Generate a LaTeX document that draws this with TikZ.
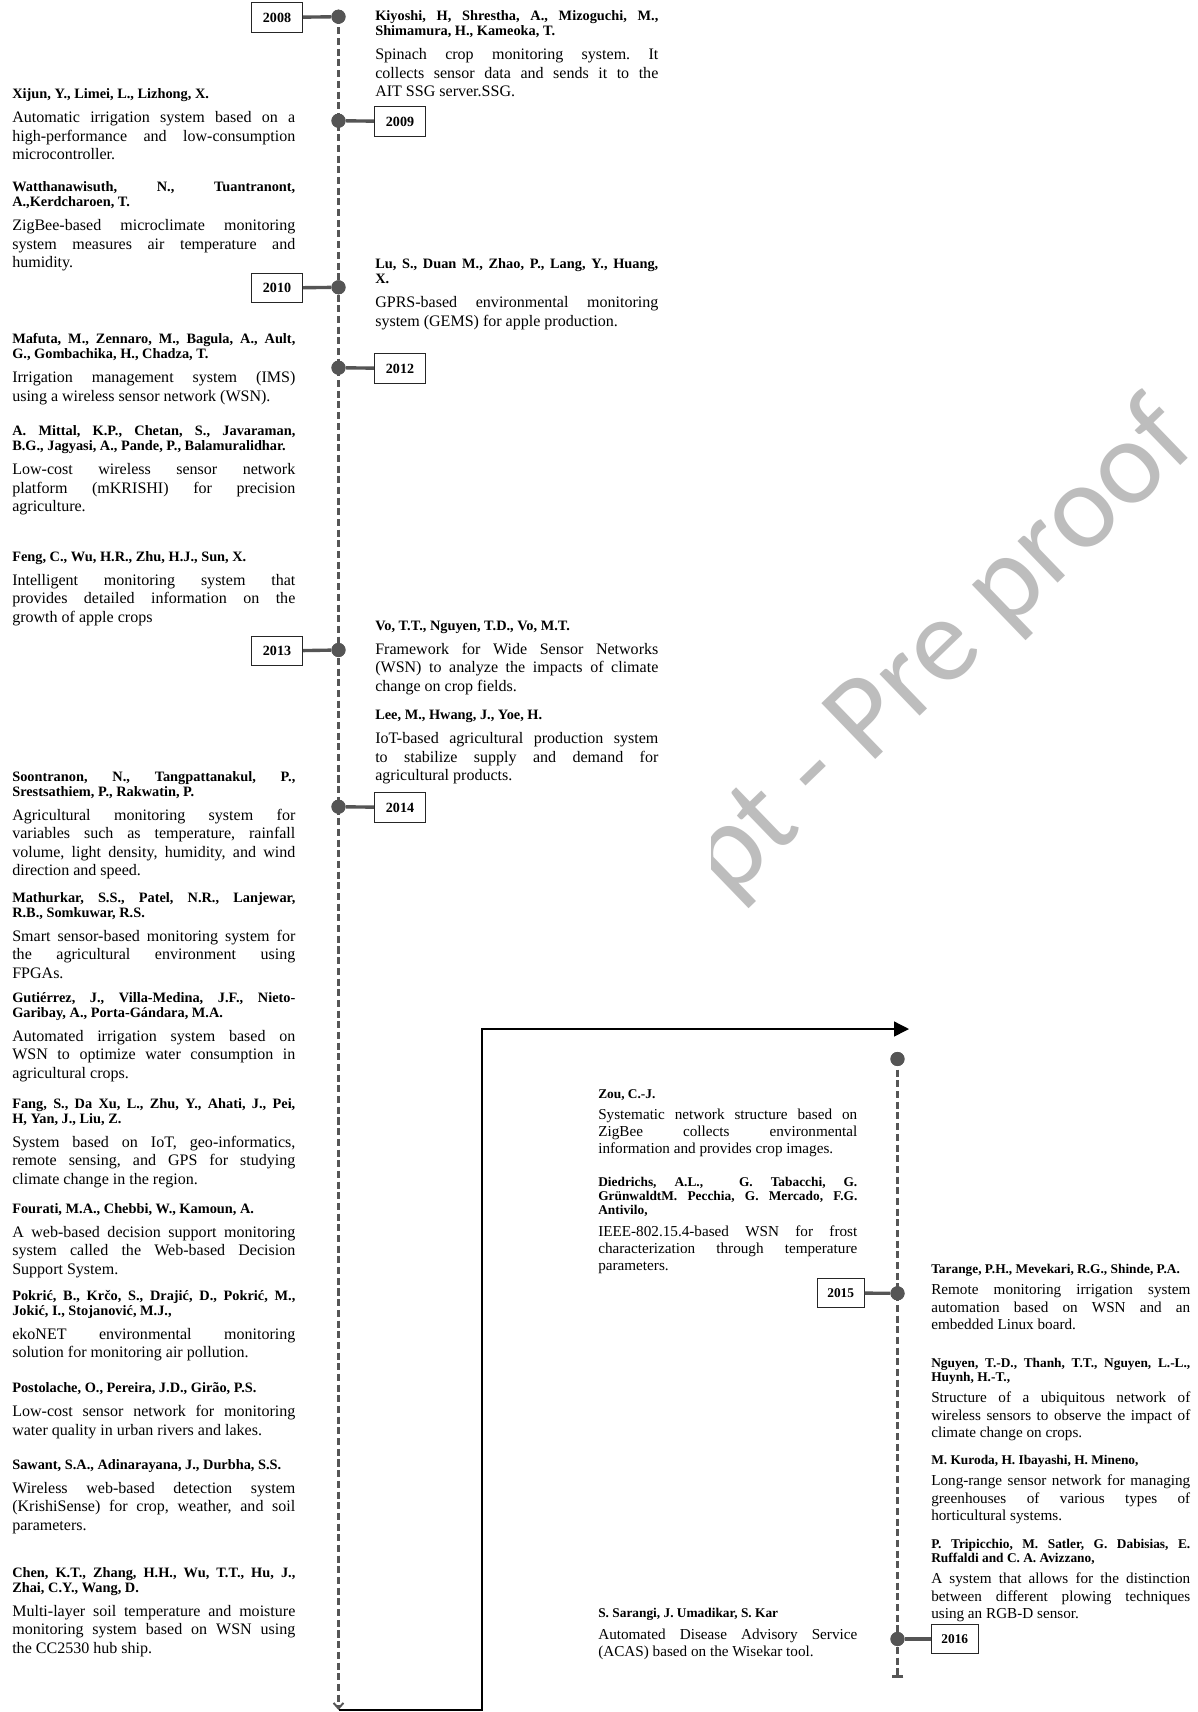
\documentclass[tikz,border=0pt]{standalone}
\usepackage{fontspec}
\setmainfont{Liberation Serif}
\newfontfamily\wmfont{Carlito}
\usetikzlibrary{arrows.meta}

\definecolor{tlgray}{HTML}{555555}
\definecolor{wmgray}{HTML}{BDBDBD}

\frenchspacing
\tolerance=10000
\hbadness=10000
\hyphenpenalty=10000
\exhyphenpenalty=10000

% one reference entry: bold authors, then the description
\newcommand{\upentry}[2]{{\fontsize{10.2}{10.6}\selectfont\bfseries #1\par}\vspace{4pt}{\fontsize{11.4}{13.1}\selectfont #2\par}}
\newcommand{\loentry}[2]{{\fontsize{9.5}{10.1}\selectfont\bfseries #1\par}\vspace{3pt}{\fontsize{10.8}{12.2}\selectfont #2\par}}

\tikzset{
  upcol/.style={anchor=north west, inner sep=0pt, text width=201.3pt, align=justify},
  locol/.style={anchor=north west, inner sep=0pt, text width=184.2pt, align=justify},
  tl/.style={draw=tlgray, line width=2.8pt, dash pattern=on 5pt off 2.6pt},
  dot/.style={circle, fill=tlgray, inner sep=0pt, minimum size=10pt},
  stub/.style={draw=tlgray, line width=2.4pt},
  yearbox/.style={draw=black!85, line width=0.7pt, fill=white, inner sep=0pt,
    minimum width=36.6pt, minimum height=21.3pt, font=\fontsize{10}{12}\selectfont\bfseries},
  lowyear/.style={yearbox, minimum width=33.4pt, minimum height=20pt,
    font=\fontsize{9.5}{11}\selectfont\bfseries},
  flow/.style={draw=black, line width=1pt},
  wm/.style={text=wmgray, inner sep=0pt, font=\wmfont\fontsize{86}{86}\selectfont},
}

\begin{document}
\begin{tikzpicture}[x=0.025cm, y=-0.025cm]
\useasboundingbox (0,0) rectangle (1198,1712);
\fill[white] (0,0) rectangle (1198,1712);

% faint watermark showing at the right
\begin{scope}
  \clip (711,0) rectangle (1198,1000);
  \node[wm, rotate=44, anchor=base west] (wmark) at (729,901) {pt - Pre proof};
\end{scope}

% ---------- upper timeline ----------
\node[dot] (d2008) at (338.5,16.7) {};
\node[dot] (d2009) at (338.5,120.7) {};
\node[dot] (d2010) at (338.5,287.3) {};
\node[dot] (d2012) at (338.5,367.7) {};
\node[dot] (d2013) at (338.5,650) {};
\node[dot] (d2014) at (338.5,806.7) {};
\coordinate (upend) at (338.5,1710);

\draw[tl, -{Straight Barb[length=4pt,width=7pt,line width=1.4pt]}] (d2008.center) -- (upend);
\foreach \d in {d2008,d2009,d2010,d2012,d2013,d2014} \node[dot] at (\d) {};

\node[yearbox] (y2008) at (277,17.5) {2008};
\node[yearbox] (y2009) at (400,121.5) {2009};
\node[yearbox] (y2010) at (277,288) {2010};
\node[yearbox] (y2012) at (400,368.5) {2012};
\node[yearbox] (y2013) at (277,651) {2013};
\node[yearbox] (y2014) at (400,807.5) {2014};

\draw[stub] (d2008) -- (y2008);
\draw[stub] (d2009) -- (y2009);
\draw[stub] (d2010) -- (y2010);
\draw[stub] (d2012) -- (y2012);
\draw[stub] (d2013) -- (y2013);
\draw[stub] (d2014) -- (y2014);

% ---------- link to the second timeline ----------
\coordinate (turnA) at (482,1710);
\coordinate (turnB) at (482,1029);
\coordinate (flowtip) at (909,1029);
\draw[flow, -{Triangle[length=10.5pt,width=10.5pt]}] (upend) -- (turnA) -- (turnB) -- (flowtip);

% ---------- lower timeline ----------
\node[dot] (dtop) at (897.5,1059) {};
\node[dot] (d2015) at (897.5,1293.3) {};
\node[dot] (d2016) at (897.5,1639) {};
\coordinate (loend) at (897.5,1678);
\draw[tl, -{Bar[width=8.5pt,line width=2.2pt]}] (dtop.center) -- (loend);
\foreach \d in {dtop,d2015,d2016} \node[dot] at (\d) {};

\node[lowyear] (y2015) at (840.7,1293) {2015};
\node[lowyear] (y2016) at (954.8,1639) {2016};
\draw[stub] (d2015) -- (y2015);
\draw[stub] (d2016) -- (y2016);

% ---------- entries, right of the upper timeline ----------
\node[upcol] (kiyoshi) at (375,10.5) {\upentry{Kiyoshi, H, Shrestha, A., Mizoguchi, M.,\linebreak Shimamura, H., Kameoka, T.}{Spinach crop monitoring system. It\linebreak collects sensor data and sends it to the\linebreak AIT SSG server.SSG.}};
\node[upcol] (lu) at (375,258.5) {\upentry{Lu, S., Duan M., Zhao, P., Lang, Y., Huang,\linebreak X.}{GPRS-based environmental monitoring\linebreak system (GEMS) for apple production.}};
\node[upcol] (vo) at (375,620.7) {\upentry{Vo, T.T., Nguyen, T.D., Vo, M.T.}{Framework for Wide Sensor Networks\linebreak (WSN) to analyze the impacts of climate\linebreak change on crop fields.}};
\node[upcol] (lee) at (375,710) {\upentry{Lee, M., Hwang, J., Yoe, H.}{IoT-based agricultural production system\linebreak to stabilize supply and demand for\linebreak agricultural products.}};

% ---------- entries, left of the upper timeline ----------
\node[upcol] (xijun) at (12,88.3) {\upentry{Xijun, Y., Limei, L., Lizhong, X.}{Automatic irrigation system based on a\linebreak high-performance and low-consumption\linebreak microcontroller.}};
\node[upcol] (watt) at (12,181.7) {\upentry{Watthanawisuth, N., Tuantranont,\linebreak A.,Kerdcharoen, T.}{ZigBee-based microclimate monitoring\linebreak system measures air temperature and\linebreak humidity.}};
\node[upcol] (mafuta) at (12,333.5) {\upentry{Mafuta, M., Zennaro, M., Bagula, A., Ault,\linebreak G., Gombachika, H., Chadza, T.}{Irrigation management system (IMS)\linebreak using a wireless sensor network (WSN).}};
\node[upcol] (mittal) at (12,425.7) {\upentry{A. Mittal, K.P., Chetan, S., Javaraman,\linebreak B.G., Jagyasi, A., Pande, P., Balamuralidhar.}{Low-cost wireless sensor network\linebreak platform (mKRISHI) for precision\linebreak agriculture.}};
\node[upcol] (feng) at (12,551) {\upentry{Feng, C., Wu, H.R., Zhu, H.J., Sun, X.}{Intelligent monitoring system that\linebreak provides detailed information on the\linebreak growth of apple crops}};
\node[upcol] (soon) at (12,771) {\upentry{Soontranon, N., Tangpattanakul, P.,\linebreak Srestsathiem, P., Rakwatin, P.}{Agricultural monitoring system for\linebreak variables such as temperature, rainfall\linebreak volume, light density, humidity, and wind\linebreak direction and speed.}};
\node[upcol] (mathur) at (12,892.3) {\upentry{Mathurkar, S.S., Patel, N.R., Lanjewar,\linebreak R.B., Somkuwar, R.S.}{Smart sensor-based monitoring system for\linebreak the agricultural environment using\linebreak FPGAs.}};
\node[upcol] (gutier) at (12,992) {\upentry{Gutiérrez, J., Villa-Medina, J.F., Nieto-\linebreak Garibay, A., Porta-Gándara, M.A.}{Automated irrigation system based on\linebreak WSN to optimize water consumption in\linebreak agricultural crops.}};
\node[upcol] (fang) at (12,1098) {\upentry{Fang, S., Da Xu, L., Zhu, Y., Ahati, J., Pei,\linebreak H, Yan, J., Liu, Z.}{System based on IoT, geo-informatics,\linebreak remote sensing, and GPS for studying\linebreak climate change in the region.}};
\node[upcol] (fourati) at (12,1203) {\upentry{Fourati, M.A., Chebbi, W., Kamoun, A.}{A web-based decision support monitoring\linebreak system called the Web-based Decision\linebreak Support System.}};
\node[upcol] (pokric) at (12,1290) {\upentry{Pokrić, B., Krčo, S., Drajić, D., Pokrić, M.,\linebreak Jokić, I., Stojanović, M.J.,}{ekoNET environmental monitoring\linebreak solution for monitoring air pollution.}};
\node[upcol] (postol) at (12,1382.3) {\upentry{Postolache, O., Pereira, J.D., Girão, P.S.}{Low-cost sensor network for monitoring\linebreak water quality in urban rivers and lakes.}};
\node[upcol] (sawant) at (12,1459) {\upentry{Sawant, S.A., Adinarayana, J., Durbha, S.S.}{Wireless web-based detection system\linebreak (KrishiSense) for crop, weather, and soil\linebreak parameters.}};
\node[upcol] (chen) at (12,1567) {\upentry{Chen, K.T., Zhang, H.H., Wu, T.T., Hu, J.,\linebreak Zhai, C.Y., Wang, D.}{Multi-layer soil temperature and moisture\linebreak monitoring system based on WSN using\linebreak the CC2530 hub ship.}};

% ---------- entries beside the lower timeline ----------
\node[locol] (zou) at (598,1089) {\loentry{Zou, C.-J.}{Systematic network structure based on\linebreak ZigBee collects environmental\linebreak information and provides crop images.}};
\node[locol] (diedr) at (598,1176.7) {\loentry{Diedrichs, A.L.,\ \ G. Tabacchi, G.\linebreak GrünwaldtM. Pecchia, G. Mercado, F.G.\linebreak Antivilo,}{IEEE-802.15.4-based WSN for frost\linebreak characterization through temperature\linebreak parameters.}};
\node[locol] (sarangi) at (598,1608.3) {\loentry{S. Sarangi, J. Umadikar, S. Kar}{Automated Disease Advisory Service\linebreak (ACAS) based on the Wisekar tool.}};

\node[locol] (tarange) at (931,1264) {\loentry{Tarange, P.H., Mevekari, R.G., Shinde, P.A.}{Remote monitoring irrigation system\linebreak automation based on WSN and an\linebreak embedded Linux board.}};
\node[locol] (nguyen) at (931,1357.7) {\loentry{Nguyen, T.-D., Thanh, T.T., Nguyen, L.-L.,\linebreak Huynh, H.-T.,}{Structure of a ubiquitous network of\linebreak wireless sensors to observe the impact of\linebreak climate change on crops.}};
\node[locol] (kuroda) at (931,1455) {\loentry{M. Kuroda, H. Ibayashi, H. Mineno,}{Long-range sensor network for managing\linebreak greenhouses of various types of\linebreak horticultural systems.}};
\node[locol] (tripic) at (931,1538.8) {\loentry{P. Tripicchio, M. Satler, G. Dabisias, E.\linebreak Ruffaldi and C. A. Avizzano,}{A system that allows for the distinction\linebreak between different plowing techniques\linebreak using an RGB-D sensor.}};

\end{tikzpicture}
\end{document}
